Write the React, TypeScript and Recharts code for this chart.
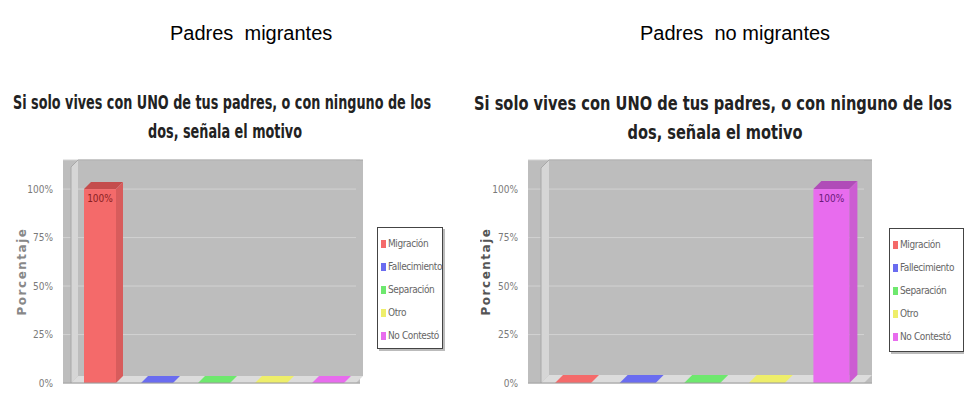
import { BarChart, Bar, XAxis, YAxis, CartesianGrid, Cell, LabelList, ReferenceArea } from 'recharts';

const categories = ['Migración', 'Fallecimiento', 'Separación', 'Otro', 'No Contestó'];
const migrantes = [100, 0, 0, 0, 0];
const noMigrantes = [0, 0, 0, 0, 100];
const yTicks = [0, 25, 50, 75, 100];
const titleLines = ['Si solo vives con UNO de tus padres, o con ninguno de los', 'dos, señala el motivo'];
const headings = ['Padres  migrantes', 'Padres  no migrantes'];

const FRONT = ['#f46a6a', '#6a6cf0', '#6ee86e', '#eeee6a', '#e86cee'];
const TOP = ['#c44d4d', '#4c4ec4', '#4cc44c', '#c8c84c', '#b04cb8'];
const SIDE = ['#d85c5c', '#5c5ed8', '#5cd85c', '#d8d85c', '#cc5cd2'];

const smallFont = '"DejaVu Sans Condensed", "DejaVu Sans", sans-serif';

function Bar3D(props: any) {
  const { x, y, width, height, index, depth } = props;
  const d = depth;
  if (!height || height <= 0) {
    return (
      <polygon
        points={`${x},${y} ${x + width},${y} ${x + width + d},${y - d} ${x + d},${y - d}`}
        fill={FRONT[index]}
      />
    );
  }
  return (
    <g>
      <rect x={x} y={y} width={width} height={height} fill={FRONT[index]} />
      <polygon points={`${x},${y} ${x + d},${y - d} ${x + width + d},${y - d} ${x + width},${y}`} fill={TOP[index]} />
      <polygon
        points={`${x + width},${y} ${x + width + d},${y - d} ${x + width + d},${y + height - d} ${x + width},${y + height}`}
        fill={SIDE[index]}
      />
    </g>
  );
}

function Box3D(props: any) {
  const { x, y, width, height, depth } = props;
  const d = depth;
  const b = y + height;
  return (
    <g>
      <rect x={x + width} y={y} width={d} height={height - d} fill="#bdbdbd" />
      <polygon points={`${x},${y + d} ${x + d},${y} ${x + d},${b - d} ${x},${b}`} fill="#d6d6d6" />
      <polygon points={`${x},${b} ${x + d},${b - d} ${x + width + d},${b - d} ${x + width},${b}`} fill="#dcdcdc" />
      <polyline points={`${x},${b} ${x},${y + d} ${x + d},${y} ${x + width + d},${y}`} fill="none" stroke="#a8a8a8" />
    </g>
  );
}

function LegendBox({ left, top, w, h }: { left: number; top: number; w: number; h: number }) {
  return (
    <div
      style={{
        position: 'absolute',
        left,
        top,
        width: w,
        height: h,
        boxSizing: 'border-box',
        border: '1px solid #444',
        boxShadow: '2px 2px 0 #bbb',
        background: '#fff',
        padding: '4px 0 0 3px',
        fontFamily: smallFont,
        fontSize: 10,
        color: '#666',
      }}
    >
      {categories.map((c, i) => (
        <div key={c} style={{ display: 'flex', alignItems: 'center', height: 23, whiteSpace: 'nowrap' }}>
          <span style={{ width: 5, height: 8, background: FRONT[i], marginRight: 2, flex: 'none' }} />
          <span style={{ letterSpacing: -0.4 }}>{c}</span>
        </div>
      ))}
    </div>
  );
}

interface PanelProps {
  values: number[];
  left: number;
  width: number;
  axisWidth: number;
  padL: number;
  padR: number;
  barSize: number;
  marginRight: number;
  depth: number;
  labelColor: string;
  labelX: number;
  axisTitleColor: string;
  legend: { left: number; top: number; w: number; h: number };
}

function Panel(p: PanelProps) {
  const data = categories.map((name, i) => ({ name, value: p.values[i] }));
  return (
    <div style={{ position: 'absolute', left: p.left, top: 150, width: p.width, height: 250 }}>
      <BarChart width={p.width} height={250} data={data} margin={{ top: 10, right: p.marginRight, bottom: 0, left: 0 }}>
        <CartesianGrid vertical={false} fill="#bdbdbd" stroke="#d2d2d2" />
        <ReferenceArea y1={0} y2={115} shape={(s: any) => <Box3D {...s} depth={p.depth} />} />
        <XAxis
          dataKey="name"
          tick={false}
          tickLine={false}
          height={17}
          axisLine={{ stroke: '#9a9a9a' }}
          padding={{ left: p.padL, right: p.padR }}
        />
        <YAxis
          width={p.axisWidth}
          domain={[0, 115]}
          ticks={yTicks}
          tickFormatter={(v: number) => `${v}%`}
          axisLine={false}
          tickLine={false}
          tickMargin={4}
          tick={{ fontSize: 10, fill: '#7a7a7a', fontFamily: smallFont }}
          label={{
            content: ({ viewBox }: any) => {
              const cx = viewBox.x + p.labelX;
              const cy = viewBox.y + viewBox.height / 2;
              return (
                <text
                  x={cx}
                  y={cy}
                  transform={`rotate(-90 ${cx} ${cy})`}
                  textAnchor="middle"
                  dominantBaseline="central"
                  fontFamily="'DejaVu Sans', sans-serif"
                  fontWeight="bold"
                  fontSize={12}
                  letterSpacing={1.5}
                  fill={p.axisTitleColor}
                >
                  Porcentaje
                </text>
              );
            },
          }}
        />
        <Bar dataKey="value" barSize={p.barSize} isAnimationActive={false} shape={(s: any) => <Bar3D {...s} depth={p.depth} />}>
          {data.map((e, i) => (
            <Cell key={e.name} fill={FRONT[i]} />
          ))}
          <LabelList
            dataKey="value"
            position="insideTop"
            offset={6}
            formatter={(v: any) => (v ? `${v}%` : '')}
            style={{ fontSize: 10, fill: p.labelColor, fontFamily: smallFont }}
          />
        </Bar>
      </BarChart>
      <LegendBox {...p.legend} />
    </div>
  );
}

function TitleLine({ x, y, text, w }: { x: number; y: number; text: string; w: number }) {
  return (
    <g transform={`translate(${x} ${y}) scale(1 1.22)`}>
      <text x={0} y={0} textLength={w} lengthAdjust="spacingAndGlyphs">
        {text}
      </text>
    </g>
  );
}

export default function App() {
  const titleFont = '"DejaVu Sans Condensed", "Liberation Sans", sans-serif';
  const headFont = '20px "Liberation Sans", Arial, sans-serif';
  return (
    <div style={{ position: 'absolute', left: 0, top: 0, width: 964, height: 400, background: '#fff', overflow: 'hidden' }}>
      <div style={{ position: 'absolute', left: 170, top: 22, font: headFont, whiteSpace: 'pre' }}>{headings[0]}</div>
      <div style={{ position: 'absolute', left: 640, top: 22, font: headFont, whiteSpace: 'pre' }}>{headings[1]}</div>
      <svg width={964} height={150} style={{ position: 'absolute', left: 0, top: 0 }}>
        <g fontFamily={titleFont} fontWeight="bold" fontSize={15.5} fill="#222" textAnchor="middle">
          <TitleLine x={222} y={109} w={418} text={titleLines[0]} />
          <TitleLine x={225} y={138} w={154} text={titleLines[1]} />
          <TitleLine x={713} y={110} w={478} text={titleLines[0]} />
          <TitleLine x={715} y={139} w={175} text={titleLines[1]} />
        </g>
      </svg>
      <Panel
        values={migrantes}
        left={0}
        width={470}
        axisWidth={63}
        padL={8}
        padR={4}
        barSize={32}
        marginRight={110}
        depth={7}
        labelColor="#8a1f1f"
        labelX={22}
        axisTitleColor="#888"
        legend={{ left: 377, top: 77, w: 66, h: 122 }}
      />
      <Panel
        values={noMigrantes}
        left={480}
        width={484}
        axisWidth={48}
        padL={13}
        padR={8}
        barSize={36}
        marginRight={92}
        depth={8}
        labelColor="#6a1a7a"
        labelX={6}
        axisTitleColor="#555"
        legend={{ left: 409, top: 78, w: 75, h: 124 }}
      />
    </div>
  );
}
